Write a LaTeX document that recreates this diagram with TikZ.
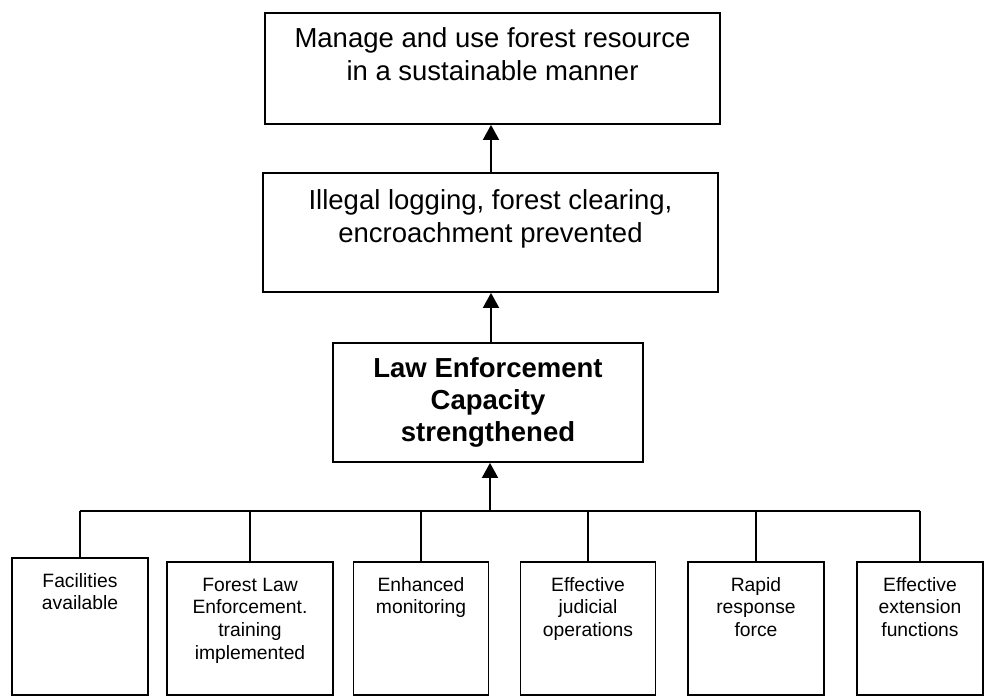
\documentclass[tikz,border=0pt]{standalone}
\usepackage{fontspec}
\setmainfont{Liberation Sans}
\usetikzlibrary{arrows.meta,calc}
\begin{document}
\begin{tikzpicture}[x=1pt,y=-1pt,
  box/.style={draw=black,line width=1.8pt,rectangle,inner sep=0pt},
  bigtxt/.style={align=center,font=\fontsize{27.5}{33.5}\selectfont,inner sep=0pt,anchor=base},
  boldtxt/.style={align=center,font=\fontsize{27.5}{32}\selectfont\bfseries,inner sep=0pt,anchor=base},
  smalltxt/.style={align=center,font=\fontsize{19.3}{22.7}\selectfont,inner sep=0pt,anchor=base},
  conn/.style={line width=1.8pt},
  arr/.style={line width=1.8pt,-{Triangle[width=16pt,length=15pt]}}]
\useasboundingbox (0,0) rectangle (984,696);
% upper boxes
\node[box,minimum width=455pt,minimum height=111pt] (top) at (492.5,68.5) {};
\node[box,minimum width=455pt,minimum height=119pt] (mid) at (490.5,232.5) {};
\node[box,minimum width=310pt,minimum height=119pt] (law) at (488,402.5) {};
% (anchor base = last line's baseline)
\node[bigtxt] (ttop) at ($(top.north)+(0,68.5)$) {Manage and use forest resource\\in a sustainable manner};
\node[bigtxt] (tmid) at ($(mid.north)+(0,70.5)$) {Illegal logging, forest clearing,\\encroachment prevented};
\node[boldtxt] (tlaw) at ($(law.north)+(0,99)$) {Law Enforcement\\Capacity\\strengthened};
% bottom boxes
\node[box,minimum width=136pt,minimum height=137pt] (b1) at (80,626.5) {};
\node[box,minimum width=166pt,minimum height=133pt] (b2) at (250,628.5) {};
\node[box,minimum width=135pt,minimum height=133pt] (b3) at (421,628.5) {};
\node[box,minimum width=135pt,minimum height=133pt] (b4) at (588,628.5) {};
\node[box,minimum width=136pt,minimum height=133pt] (b5) at (756,628.5) {};
\node[box,minimum width=126pt,minimum height=133pt] (b6) at (920,628.5) {};
\node[smalltxt] (t1) at ($(b1.north)+(0,52.7)$) {Facilities\\available};
\node[smalltxt] (t2) at ($(b2.north)+(0,98.1)$) {Forest Law\\Enforcement.\\training\\implemented};
\node[smalltxt] (t3) at ($(b3.north)+(0,52.7)$) {Enhanced\\monitoring};
\node[smalltxt] (t4) at ($(b4.north)+(0,75.4)$) {Effective\\judicial\\operations};
\node[smalltxt] (t5) at ($(b5.north)+(0,75.4)$) {Rapid\\response\\force};
\node[smalltxt] (t6) at ($(b6.north)+(0,75.4)$) {Effective\\extension\\functions};
% connectors
\draw[arr] (mid.north -| 491,0) -- (top.south -| 491,0);
\draw[arr] (law.north -| 491,0) -- (mid.south -| 491,0);
\coordinate (bus) at (490,511);
\draw[arr] (bus) -- (bus |- law.south);
\draw[conn] (b1.north |- bus) -- (b6.north |- bus);
\foreach \b in {b1,b2,b3,b4,b5,b6}{
  \draw[conn] (\b.north |- bus) -- (\b.north);
}
\end{tikzpicture}
\end{document}
